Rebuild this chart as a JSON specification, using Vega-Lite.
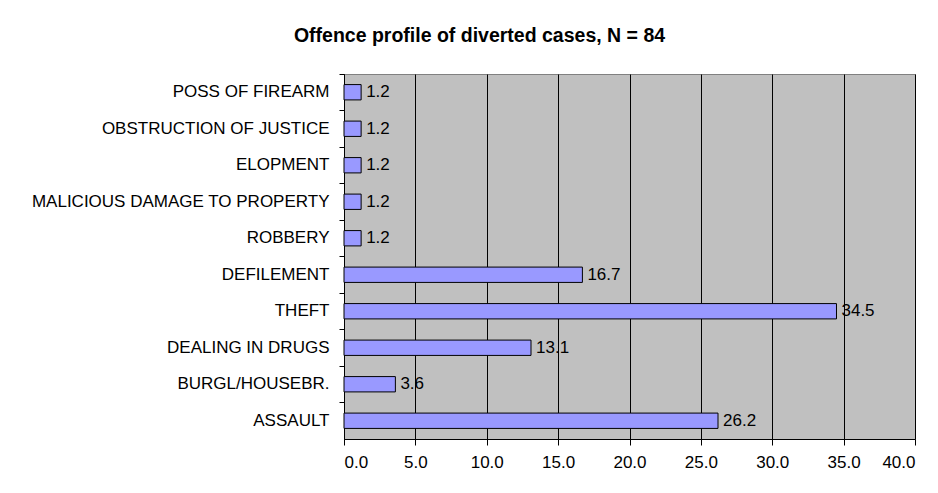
{
  "$schema": "https://vega.github.io/schema/vega-lite/v6.json",
  "width": 571,
  "height": 365,
  "autosize": {"type": "none"},
  "padding": {"left": 344, "top": 74, "right": 23, "bottom": 54},
  "background": "white",
  "title": {
    "text": "Offence profile of diverted cases, N = 84",
    "font": "Liberation Sans",
    "fontSize": 19.5,
    "fontWeight": "bold",
    "color": "black",
    "anchor": "middle",
    "frame": "group",
    "dx": -150,
    "baseline": "alphabetic",
    "offset": 12
  },
  "data": {
    "values": [
      {"offence": "ASSAULT", "pct": 26.2},
      {"offence": "BURGL/HOUSEBR.", "pct": 3.6},
      {"offence": "DEALING IN DRUGS", "pct": 13.1},
      {"offence": "THEFT", "pct": 34.5},
      {"offence": "DEFILEMENT", "pct": 16.7},
      {"offence": "ROBBERY", "pct": 1.2},
      {"offence": "MALICIOUS DAMAGE TO PROPERTY", "pct": 1.2},
      {"offence": "ELOPMENT", "pct": 1.2},
      {"offence": "OBSTRUCTION OF JUSTICE", "pct": 1.2},
      {"offence": "POSS OF FIREARM", "pct": 1.2}
    ]
  },
  "encoding": {
    "y": {
      "field": "offence",
      "type": "nominal",
      "sort": ["POSS OF FIREARM", "OBSTRUCTION OF JUSTICE", "ELOPMENT", "MALICIOUS DAMAGE TO PROPERTY", "ROBBERY", "DEFILEMENT", "THEFT", "DEALING IN DRUGS", "BURGL/HOUSEBR.", "ASSAULT"],
      "scale": {"paddingInner": 0, "paddingOuter": 0},
      "axis": {
        "title": null,
        "bandPosition": 0,
        "domainColor": "black",
        "tickColor": "black",
        "tickSize": 5,
        "labelPadding": 10,
        "labelLimit": 0,
        "labelFont": "Liberation Sans",
        "labelFontSize": 17,
        "labelColor": "black",
        "grid": false
      }
    },
    "x": {
      "field": "pct",
      "type": "quantitative",
      "scale": {"domain": [0, 40], "nice": false},
      "axis": {
        "title": null,
        "values": [0, 5, 10, 15, 20, 25, 30, 35, 40],
        "format": ".1f",
        "domainColor": "black",
        "tickColor": "black",
        "tickSize": 6,
        "labelPadding": 9,
        "labelFont": "Liberation Sans",
        "labelFontSize": 17,
        "labelColor": "black",
        "grid": true,
        "gridColor": "black",
        "gridOpacity": 1,
        "gridWidth": 1
      }
    }
  },
  "layer": [
    {
      "mark": {"type": "bar", "height": {"band": 0.42}, "fill": "#9999FF", "stroke": "black", "strokeWidth": 1}
    },
    {
      "mark": {"type": "text", "align": "left", "baseline": "middle", "dx": 5, "font": "Liberation Sans", "fontSize": 17, "color": "black"},
      "encoding": {"text": {"field": "pct", "type": "quantitative", "format": ".1f"}}
    }
  ],
  "config": {
    "view": {"fill": "#C0C0C0", "stroke": "#808080", "strokeWidth": 1}
  }
}
